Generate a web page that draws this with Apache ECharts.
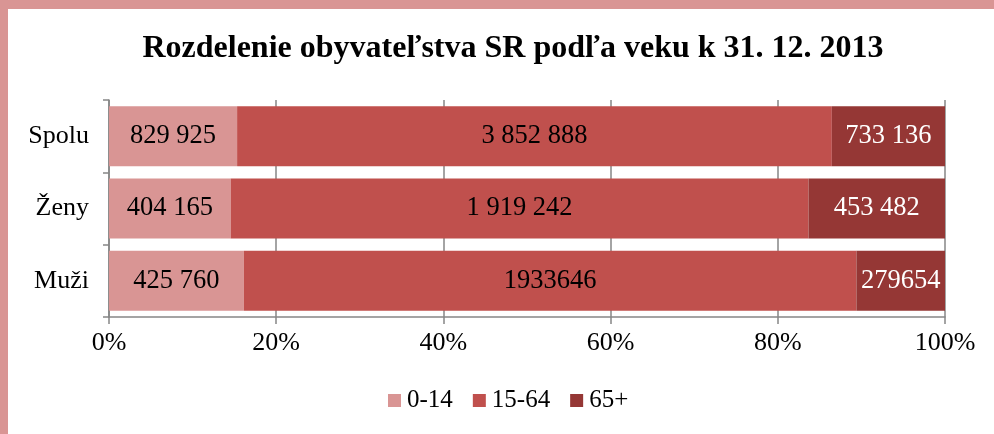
<!DOCTYPE html>
<html>
<head>
<meta charset="utf-8">
<script src="https://cdn.jsdelivr.net/npm/echarts@6/dist/echarts.min.js"></script>
<style>
html,body{margin:0;padding:0;background:#d99594;}
#frame{position:absolute;left:8px;top:9px;width:986px;height:425px;background:#fff;}
#chart{position:absolute;left:0;top:0;width:994px;height:434px;}
</style>
</head>
<body>
<div id="frame"></div>
<div id="chart"></div>
<script>
const categories = ['Muži', 'Ženy', 'Spolu'];
const seriesNames = ['0-14', '15-64', '65+'];
const v0_14 = [425760, 404165, 829925];
const v15_64 = [1933646, 1919242, 3852888];
const v65 = [279654, 453482, 733136];
const lbl0_14 = ['425 760', '404 165', '829 925'];
const lbl15_64 = ['1933646', '1 919 242', '3 852 888'];
const lbl65 = ['279654', '453 482', '733 136'];
const xTicks = [0, 20, 40, 60, 80, 100];
const colors = ['#d99594', '#c0504d', '#953735'];

const totals = categories.map((c, i) => v0_14[i] + v15_64[i] + v65[i]);
const raw = [v0_14, v15_64, v65];
const lbls = [lbl0_14, lbl15_64, lbl65];
const font = '"Liberation Serif", "Times New Roman", serif';

const series = seriesNames.map((name, s) => ({
  name: name,
  type: 'bar',
  stack: 'all',
  barCategoryGap: '17%',
  itemStyle: { color: colors[s] },
  label: {
    show: true,
    position: 'inside',
    fontFamily: font,
    fontSize: 26.5,
    color: s === 2 ? '#ffffff' : '#000000',
    formatter: p => lbls[s][p.dataIndex]
  },
  data: raw[s].map((v, i) => v / totals[i] * 100)
}));

const chart = echarts.init(document.getElementById('chart'), null, { renderer: 'canvas' });
chart.setOption({
  animation: false,
  backgroundColor: 'transparent',
  title: {
    text: 'Rozdelenie obyvateľstva SR podľa veku k 31. 12. 2013',
    left: 508, textAlign: 'center', top: 28,
    textStyle: { fontFamily: font, fontSize: 32, fontWeight: 'bold', color: '#000' }
  },
  legend: {
    bottom: 16, left: 383,
    itemWidth: 13, itemHeight: 13, itemGap: 20,
    icon: 'rect',
    textStyle: { fontFamily: font, fontSize: 25, color: '#000', padding: [0, 0, 0, 1] },
    data: seriesNames
  },
  grid: { left: 109, right: 49, top: 100, bottom: 117, containLabel: false },
  xAxis: {
    type: 'value', min: 0, max: 100, interval: 20,
    axisLine: { show: true, lineStyle: { color: '#868686', width: 1.5 } },
    axisTick: { show: true, length: 7, lineStyle: { color: '#868686', width: 1.5 } },
    splitLine: { show: true, lineStyle: { color: '#868686', width: 1.5 } },
    axisLabel: {
      fontFamily: font, fontSize: 26, color: '#000', margin: 13,
      formatter: v => xTicks.indexOf(v) >= 0 ? v + '%' : ''
    }
  },
  yAxis: {
    type: 'category', data: categories,
    axisLine: { show: true, lineStyle: { color: '#868686', width: 1.5 } },
    axisTick: { show: true, length: 6, lineStyle: { color: '#868686', width: 1.5 } },
    axisLabel: { fontFamily: font, fontSize: 26, color: '#000', margin: 20 }
  },
  series: series
});
</script>
</body>
</html>
